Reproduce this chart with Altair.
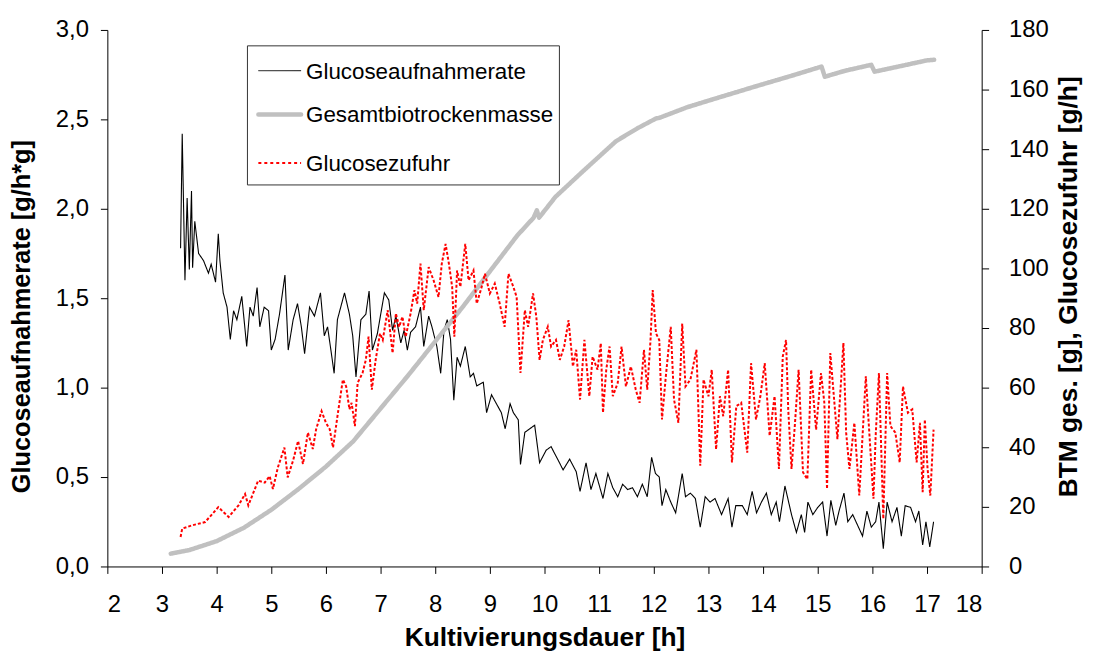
import altair as alt
import pandas as pd

# ---- Glucoseaufnahmerate (left axis, g/h*g) ----
bx = [3.34,3.37,3.42,3.46,3.50,3.54,3.56,3.60,3.67,3.76,
      3.85,3.90,3.98,4.03,4.06,4.12,4.19,4.25,4.31,4.37,
      4.46,4.55,4.61,4.67,4.74,4.79,4.87,4.95,5.00,5.07,
      5.15,5.25,5.31,5.40,5.48,5.55,5.61,5.70,5.79,5.90,
      5.97,6.03,6.10,6.15,6.21,6.34,6.43,6.49,6.55,6.64,
      6.73,6.79,6.85,6.94,7.07,7.15,7.22,7.28,7.37,7.43,
      7.49,7.55,7.64,7.73,7.79,7.88,7.94,8.03,8.10,8.16,
      8.22,8.28,8.34,8.40,8.46,8.55,8.64,8.70,8.76,8.88,
      8.94,9.03,9.12,9.21,9.28,9.37,9.43,9.52,9.56,9.64,
      9.73,9.82,9.91,10.03,10.12,10.24,10.34,10.46,10.58,10.65,
      10.76,10.85,10.94,11.07,11.16,11.25,11.34,11.43,11.52,11.61,
      11.70,11.79,11.88,11.96,12.03,12.10,12.15,12.22,12.31,12.40,
      12.52,12.58,12.67,12.76,12.85,12.94,13.03,13.12,13.24,13.36,
      13.43,13.50,13.62,13.71,13.80,13.88,13.97,14.06,14.15,14.24,
      14.30,14.40,14.52,14.61,14.70,14.76,14.82,14.91,15.00,15.09,
      15.17,15.24,15.33,15.39,15.48,15.55,15.64,15.73,15.82,15.90,
      15.98,16.06,16.12,16.20,16.27,16.36,16.45,16.53,16.60,16.70,
      16.79,16.85,16.92,16.98,17.05,17.12]
by = [1.78,2.42,1.60,2.06,1.66,2.10,1.67,1.93,1.75,1.71,
      1.64,1.69,1.59,1.86,1.71,1.53,1.45,1.27,1.43,1.38,
      1.51,1.23,1.45,1.40,1.56,1.34,1.45,1.43,1.21,1.27,
      1.41,1.63,1.21,1.38,1.47,1.34,1.19,1.45,1.40,1.53,
      1.29,1.34,1.19,1.08,1.38,1.53,1.41,1.29,1.06,1.38,
      1.41,1.54,1.21,1.30,1.53,1.49,1.32,1.40,1.25,1.32,
      1.21,1.31,1.34,1.45,1.23,1.40,1.34,1.23,1.08,1.32,
      1.38,1.27,0.93,1.17,1.12,1.23,1.06,1.08,1.01,1.03,
      0.86,0.96,0.91,0.86,0.77,0.91,0.86,0.82,0.57,0.75,
      0.77,0.79,0.58,0.65,0.67,0.60,0.54,0.60,0.53,0.42,
      0.58,0.43,0.52,0.38,0.52,0.44,0.39,0.46,0.43,0.44,
      0.39,0.46,0.39,0.61,0.52,0.50,0.34,0.43,0.36,0.30,
      0.52,0.39,0.41,0.38,0.22,0.39,0.36,0.38,0.29,0.38,
      0.22,0.34,0.34,0.29,0.42,0.30,0.36,0.41,0.29,0.36,
      0.25,0.45,0.29,0.19,0.29,0.19,0.36,0.29,0.33,0.36,
      0.17,0.37,0.23,0.31,0.41,0.25,0.29,0.23,0.17,0.31,
      0.22,0.25,0.36,0.10,0.36,0.25,0.33,0.17,0.34,0.33,
      0.25,0.31,0.12,0.25,0.11,0.25]

# ---- Gesamtbiotrockenmasse (right axis, g) ----
gx = [3.16,3.50,4.00,4.50,5.00,5.50,6.00,6.50,7.00,7.50,8.00,8.50,9.00,9.50,
      9.80,9.86,9.90,10.20,10.71,11.31,11.70,12.04,12.10,12.60,13.13,13.98,
      14.50,15.07,15.13,15.50,15.98,16.04,16.50,17.00,17.13]
gy = [4.3,5.5,8.5,13.0,19.0,26.0,33.5,42.0,53.0,64.0,75.5,87.0,99.0,111.0,
      117.0,119.5,117.0,124.0,132.7,142.7,147.0,150.3,150.5,154.0,157.0,161.7,
      164.5,167.7,164.3,166.3,168.3,166.0,167.8,169.8,170.0]

# ---- Glucosezufuhr (right axis, g/h) ----
rx = [3.34,3.37,3.55,3.79,4.03,4.22,4.40,4.52,4.58,4.76,
      4.88,4.97,5.03,5.12,5.24,5.30,5.40,5.49,5.58,5.67,
      5.76,5.82,5.92,6.00,6.07,6.13,6.22,6.31,6.37,6.43,
      6.47,6.53,6.58,6.67,6.73,6.78,6.84,6.91,6.99,
      7.04,7.13,7.22,7.28,7.34,7.40,7.46,7.55,7.62,7.67,
      7.73,7.79,7.88,7.97,8.06,8.12,8.19,8.25,8.31,8.35,
      8.40,8.46,8.55,8.61,8.70,8.76,8.85,8.91,9.00,9.09,
      9.18,9.27,9.34,9.43,9.49,9.56,9.64,9.70,9.79,9.85,
      9.91,9.97,10.06,10.12,10.21,10.28,10.36,10.44,10.52,10.58,
      10.65,10.73,
      10.82,10.88,10.97,11.03,11.07,11.13,11.19,11.25,11.34,11.41,
      11.49,11.58,11.67,11.74,11.82,11.88,11.94,11.98,12.04,12.10,
      12.15,12.22,12.31,12.37,12.45,12.52,12.58,12.67,12.78,12.85,
      12.91,13.00,13.06,13.14,13.21,13.27,13.36,13.43,13.51,13.60,
      13.71,13.78,13.87,13.95,14.03,14.12,14.21,14.29,14.36,14.42,
      14.46,14.52,14.58,14.65,14.73,14.81,14.88,14.97,15.06,15.12,
      15.17,15.23,15.30,15.36,15.47,15.52,15.58,15.67,15.76,15.82,
      15.88,15.94,16.02,16.06,16.12,16.20,16.27,16.33,16.42,16.50,
      16.56,16.65,16.73,16.81,16.87,16.92,16.96,17.01,17.06,17.12]
ry = [9.9,12.7,13.8,14.9,19.9,16.6,20.5,24.3,20.5,28.8,
      28.1,30.3,26.0,33.2,39.9,29.9,35.6,42.1,34.4,44.9,
      39.4,46.0,52.1,48.2,46.0,39.9,51.6,62.7,60.4,52.7,
      54.9,47.1,61.6,64.9,69.3,77.1,59.3,69.3,78.2,
      76.0,86.0,71.6,84.9,80.4,83.8,77.1,84.9,92.7,88.2,
      101.6,86.0,100.4,96.0,90.4,101.6,108.2,101.6,93.8,77.1,
      99.3,93.8,108.2,96.0,99.3,88.2,93.8,98.2,91.6,94.9,
      88.2,80.4,98.2,93.8,90.4,64.9,86.0,80.4,91.6,83.8,
      69.3,76.0,80.4,73.8,76.0,69.3,73.8,82.6,67.1,72.7,
      56.0,76.0,
      57.1,70.4,66.0,74.9,51.6,66.0,73.8,57.1,61.6,73.8,
      60.4,67.1,59.3,54.9,72.7,59.3,76.0,92.7,78.2,76.0,
      49.3,63.8,80.4,56.0,48.2,81.5,60.4,62.7,72.7,33.8,
      62.7,57.1,66.0,39.3,57.1,50.4,66.0,34.9,53.8,54.9,
      38.2,68.2,49.3,57.1,68.2,43.8,57.1,32.7,70.4,76.0,
      52.7,32.7,47.1,66.0,31.6,29.3,66.0,45.9,64.9,55.1,
      26.0,71.6,56.0,42.7,75.0,44.9,32.7,48.2,23.8,43.8,
      63.8,46.0,22.7,43.8,64.9,16.0,64.9,47.1,44.9,34.9,
      60.4,51.6,52.7,34.9,48.2,24.9,49.3,32.7,23.8,45.9]

names = ["Glucoseaufnahmerate", "Gesamtbiotrockenmasse", "Glucosezufuhr"]
colors = ["#000000", "#c0c0c0", "#ff0000"]
widths = [1.1, 4.5, 2]
dashes = [[1, 0], [1, 0], [3, 2]]
x_ticks = list(range(2, 19))
left_ticks = [0, 0.5, 1.0, 1.5, 2.0, 2.5, 3.0]
right_ticks = list(range(0, 181, 20))

df_b = pd.DataFrame({"t": bx, "v": by, "s": names[0], "o": range(len(bx))})
df_g = pd.DataFrame({"t": gx, "v": gy, "s": names[1], "o": range(len(gx))})
df_r = pd.DataFrame({"t": rx, "v": ry, "s": names[2], "o": range(len(rx))})

FONT = "Liberation Sans"
LBL = 24

color = alt.Color("s:N", scale=alt.Scale(domain=names, range=colors), legend=None)

x_enc = alt.X("t:Q", scale=alt.Scale(domain=[2, 18], nice=False, zero=False),
              axis=alt.Axis(values=x_ticks, title="Kultivierungsdauer [h]", titleFontSize=26.5,
                            labelPadding=19, titleY=80, titleBaseline="alphabetic"))

left_axis = alt.Axis(values=left_ticks, title="Glucoseaufnahmerate [g/h*g]", orient="left",
                     labelExpr="replace(format(datum.value, '.1f'), '.', ',')", titleFontSize=25.5,
                     labelPadding=12, titleX=-86, titleY=288, titleBaseline="middle", titleAngle=270)
right_axis = alt.Axis(values=right_ticks, title="BTM ges. [g], Glucosezufuhr [g/h]", orient="right",
                      titleFontSize=26.5,
                      labelPadding=20, titleX=87, titleY=258, titleBaseline="middle", titleAngle=270)

black = alt.Chart(df_b).mark_line(strokeWidth=widths[0], strokeDash=dashes[0]).encode(
    x=x_enc,
    y=alt.Y("v:Q", scale=alt.Scale(domain=[0, 3], nice=False), axis=left_axis),
    color=color, order="o:Q")

gray = alt.Chart(df_g).mark_line(strokeWidth=widths[1], strokeDash=dashes[1],
                                 strokeCap="round", strokeJoin="round").encode(
    x=x_enc,
    y=alt.Y("v:Q", scale=alt.Scale(domain=[0, 180], nice=False), axis=right_axis),
    color=color, order="o:Q")

red = alt.Chart(df_r).mark_line(strokeWidth=widths[2], strokeDash=dashes[2]).encode(
    x=x_enc,
    y=alt.Y("v:Q", scale=alt.Scale(domain=[0, 180], nice=False), axis=right_axis),
    color=color, order="o:Q")

# ---- legend (drawn as a framed box with one sample line and label per series) ----
one = pd.DataFrame({"k": [0]})
leg_box = alt.Chart(one).mark_rect(fill="#ffffff", stroke="#333333", strokeWidth=1).encode(
    x=alt.value(141), x2=alt.value(455), y=alt.value(16), y2=alt.value(156))
leg_rows = [41, 85, 134]
leg_layers = [leg_box]
for i, nm in enumerate(names):
    leg_layers.append(
        alt.Chart(one).mark_rule(color=colors[i], strokeWidth=(1 if i == 0 else widths[i]),
                                 strokeDash=([3, 3] if i == 2 else [1, 0]),
                                 strokeCap=("round" if i == 1 else "butt")).encode(
            x=alt.value(152), x2=alt.value(195), y=alt.value(leg_rows[i])))
    leg_layers.append(
        alt.Chart(one).mark_text(text=nm, align="left", baseline="middle", font=FONT,
                                 fontSize=22.5, color="#000000").encode(
            x=alt.value(200), y=alt.value(leg_rows[i] + 1)))

chart = alt.layer(black, alt.layer(gray, red), *leg_layers).resolve_scale(y="independent").properties(
    width=880, height=540,
    autosize=alt.AutoSizeParams(type="none"),
    padding={"left": 100, "top": 20, "right": 104, "bottom": 85},
).configure_view(stroke=None).configure_axis(
    grid=False, domainColor="#000", tickColor="#000", labelColor="#000", titleColor="#000",
    labelFont=FONT, titleFont=FONT, labelFontSize=LBL,
    titleFontWeight="bold", tickSize=7, domainWidth=1, tickWidth=1,
)

chart.save("out.html", embed_options={"renderer": "svg", "actions": False})
